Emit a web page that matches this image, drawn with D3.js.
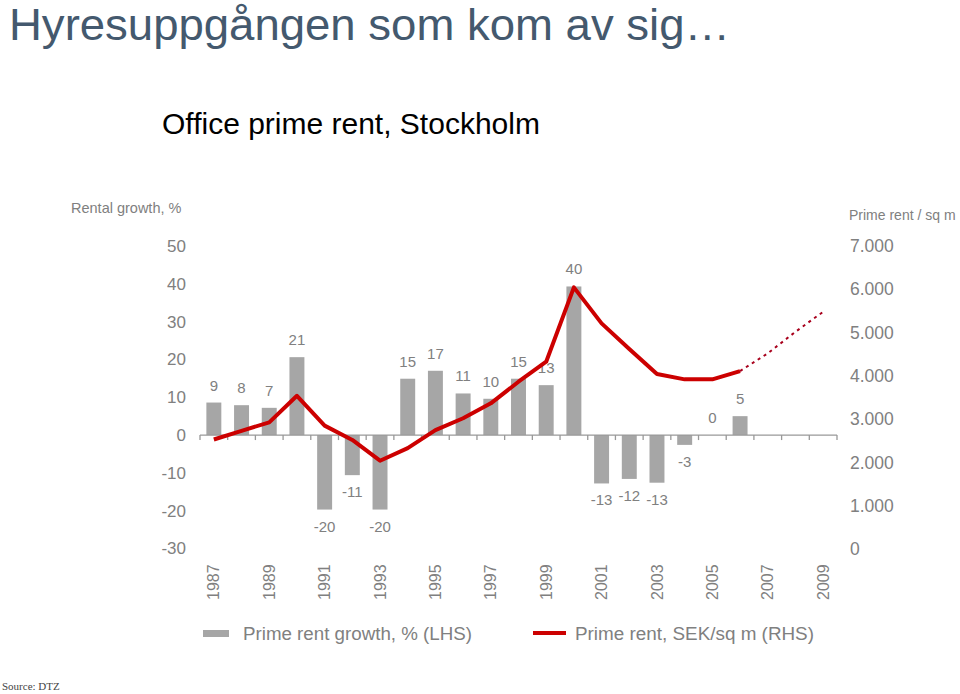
<!DOCTYPE html>
<html>
<head>
<meta charset="utf-8">
<script src="https://cdn.jsdelivr.net/npm/d3@7"></script>
<style>
  body { margin: 0; background: #fff; }
  text { font-family: "Liberation Sans", Arial, sans-serif; }
</style>
</head>
<body>
<svg id="chart" width="960" height="694"></svg>
<script>
const years = ["1987","1988","1989","1990","1991","1992","1993","1994","1995","1996","1997","1998","1999","2000","2001","2002","2003","2004","2005","2006","2007","2008","2009"];
const growth = [8.6, 7.9, 7.2, 20.6, -19.7, -10.6, -19.7, 14.9, 17.0, 11.0, 9.6, 14.9, 13.2, 39.3, -12.8, -11.6, -12.6, -2.6, 0, 5.0, null, null, null];
const growthLabels = ["9","8","7","21","-20","-11","-20","15","17","11","10","15","13","40","-13","-12","-13","-3","0","5",null,null,null];
const rent = [2530, 2730, 2925, 3540, 2850, 2520, 2040, 2330, 2748, 3020, 3365, 3864, 4326, 6044, 5212, 4620, 4042, 3919, 3919, 4111, null, null, null];
const rentForecast = [null, null, null, null, null, null, null, null, null, null, null, null, null, null, null, null, null, null, null, 4111, 4520, 5018, 5480];
const leftTicks = [50, 40, 30, 20, 10, 0, -10, -20, -30];
const rightTicks = [7000, 6000, 5000, 4000, 3000, 2000, 1000, 0];
const yearTickLabels = ["1987","1989","1991","1993","1995","1997","1999","2001","2003","2005","2007","2009"];

const svg = d3.select("#chart");
const gray = "#808080";

const x = d3.scaleBand().domain(years).range([200, 837]).paddingInner(0.46).paddingOuter(0.23);
const yL = d3.scaleLinear().domain([-30, 50]).range([548.5, 246]);
const yR = d3.scaleLinear().domain([0, 7000]).range([549, 246]);
const cx = d => x(d) + x.bandwidth() / 2;

// Title
svg.append("text").attr("x", 9).attr("y", 40).attr("font-size", 45).attr("fill", "#44596e")
  .attr("textLength", 721).attr("lengthAdjust", "spacingAndGlyphs")
  .text("Hyresuppgången som kom av sig…");
svg.append("text").attr("x", 162).attr("y", 134).attr("font-size", 30).attr("fill", "#000")
  .text("Office prime rent, Stockholm");

// Axis titles
svg.append("text").attr("x", 71).attr("y", 213).attr("font-size", 14.5).attr("fill", gray).text("Rental growth, %");
svg.append("text").attr("x", 849).attr("y", 220).attr("font-size", 14).attr("fill", gray).text("Prime rent / sq m");

// Left axis labels
svg.append("g").selectAll("text").data(leftTicks).join("text")
  .attr("x", 186).attr("y", d => yL(d)).attr("dy", "0.35em")
  .attr("text-anchor", "end").attr("font-size", 17).attr("fill", gray).text(d => d);

// Right axis labels
const fmtR = d => d === 0 ? "0" : d3.format(",")(d).replace(",", ".");
svg.append("g").selectAll("text").data(rightTicks).join("text")
  .attr("x", 850).attr("y", d => yR(d)).attr("dy", "0.35em")
  .attr("text-anchor", "start").attr("font-size", 17.5).attr("fill", gray).text(fmtR);

// Bars
svg.append("g").selectAll("rect").data(years.map((y, i) => ({y, v: growth[i]})).filter(d => d.v !== null && d.v !== 0))
  .join("rect")
  .attr("x", d => x(d.y)).attr("width", x.bandwidth())
  .attr("y", d => yL(Math.max(0, d.v))).attr("height", d => Math.abs(yL(d.v) - yL(0)))
  .attr("fill", "#a6a6a6");

// Category axis
const xAxisG = svg.append("g").attr("transform", `translate(0,${yL(0)})`);
xAxisG.append("line").attr("x1", 200).attr("x2", 837).attr("y1", 0).attr("y2", 0).attr("stroke", "#999").attr("stroke-width", 1.3);
const boundaries = years.map(d => x(d) - x.step() * x.paddingInner() / 2).concat([837]);
xAxisG.selectAll("line.tick").data(boundaries).join("line").attr("class", "tick")
  .attr("x1", d => d).attr("x2", d => d).attr("y1", 0).attr("y2", 5).attr("stroke", "#999").attr("stroke-width", 1.3);

// Year labels
svg.append("g").selectAll("text").data(yearTickLabels).join("text")
  .attr("transform", d => `translate(${cx(d)},600) rotate(-90)`)
  .attr("dy", "0.35em").attr("text-anchor", "start").attr("font-size", 16).attr("fill", gray).text(d => d);

// Bar labels
svg.append("g").selectAll("text").data(years.map((y, i) => ({y, v: growth[i], l: growthLabels[i]})).filter(d => d.l !== null))
  .join("text")
  .attr("x", d => cx(d.y))
  .attr("y", d => d.v > 0 ? yL(d.v) - 12 : (d.v === 0 ? yL(0) - 12 : yL(d.v) + 22))
  .attr("text-anchor", "middle").attr("font-size", 15).attr("fill", gray).text(d => d.l);

// Lines
const line = d3.line().defined(d => d.v !== null).x(d => cx(d.y)).y(d => yR(d.v));
svg.append("path").datum(years.map((y, i) => ({y, v: rent[i]})))
  .attr("d", line).attr("fill", "none").attr("stroke", "#cc0000").attr("stroke-width", 4).attr("stroke-linejoin", "round");
svg.append("path").datum(years.map((y, i) => ({y, v: rentForecast[i]})))
  .attr("d", line).attr("fill", "none").attr("stroke", "#a8001c").attr("stroke-width", 2).attr("stroke-dasharray", "3,4");

// Legend
svg.append("rect").attr("x", 203).attr("y", 630).attr("width", 26).attr("height", 7).attr("fill", "#a6a6a6");
svg.append("text").attr("x", 243).attr("y", 640).attr("font-size", 17.5).attr("fill", gray)
  .attr("textLength", 229).attr("lengthAdjust", "spacingAndGlyphs").text("Prime rent growth, % (LHS)");
svg.append("line").attr("x1", 533).attr("x2", 566).attr("y1", 633).attr("y2", 633).attr("stroke", "#cc0000").attr("stroke-width", 4);
svg.append("text").attr("x", 575).attr("y", 640).attr("font-size", 17.5).attr("fill", gray)
  .attr("textLength", 239).attr("lengthAdjust", "spacingAndGlyphs").text("Prime rent, SEK/sq m (RHS)");

// Source
svg.append("text").attr("x", 2).attr("y", 690).attr("font-size", 11).attr("fill", "#444")
  .style("font-family", "'Liberation Serif', serif").text("Source: DTZ");
</script>
</body>
</html>
